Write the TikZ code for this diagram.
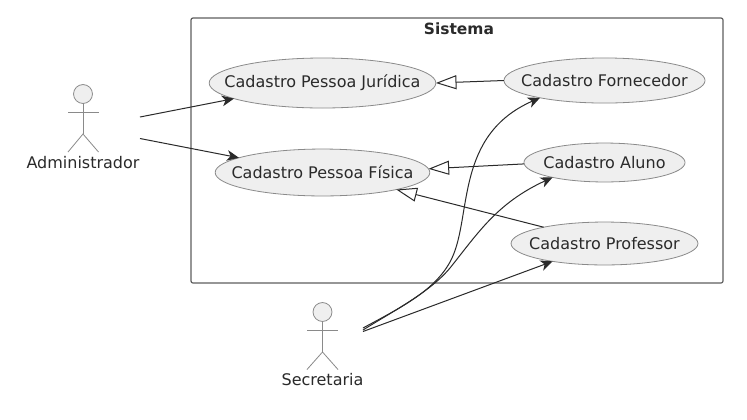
\documentclass[tikz,border=0pt]{standalone}
\usepackage{fontspec}
\setmainfont{DejaVu Sans}
\usetikzlibrary{arrows.meta,shapes.geometric}
\definecolor{ink}{HTML}{2A2A2A}
\definecolor{soft}{HTML}{EFEFEF}
\definecolor{rim}{HTML}{8A8A8A}
\tikzset{
  usecase/.style={draw=rim,fill=soft,ellipse,line width=0.6pt,inner sep=0pt,outer sep=0pt},
  caption/.style={font=\fontsize{12pt}{14pt}\selectfont,text=ink,inner sep=0pt},
  frame/.style={draw=ink!75,line width=0.9pt,rounded corners=1.5pt},
  actorline/.style={draw=rim,line width=0.6pt},
  actorhead/.style={circle,draw=rim,fill=soft,line width=0.6pt,minimum size=14.2pt,inner sep=0pt,outer sep=0pt},
  assoc/.style={draw=ink,line width=0.75pt,-{Stealth[length=9pt,width=8pt,inset=2.6pt]}},
  general/.style={draw=ink,line width=0.75pt,-{Triangle[open,length=15.5pt,width=10.5pt,fill=white]}}
}
\begin{document}
\begin{tikzpicture}[x=0.75pt,y=-0.75pt]
\useasboundingbox (0,0) rectangle (747,419);
\fill[white] (0,0) rectangle (747,419);
\draw[frame] (191,18) rectangle (723,283);
\node[caption,font=\fontsize{11.6pt}{14pt}\selectfont\bfseries] (sistema) at (459,29) {Sistema};

\node[usecase,minimum width=170pt,minimum height=37.5pt,label={[caption]center:Cadastro Pessoa Jurídica}] (jur) at (322.5,83) {};
\node[usecase,minimum width=161pt,minimum height=35.2pt,label={[caption]center:Cadastro Pessoa Física}] (fis) at (322.5,172.5) {};
\node[usecase,minimum width=150.8pt,minimum height=33.8pt,label={[caption]center:Cadastro Fornecedor}] (forn) at (604.5,80.5) {};
\node[usecase,minimum width=120.8pt,minimum height=29.2pt,label={[caption]center:Cadastro Aluno}] (alu) at (604.5,162.5) {};
\node[usecase,minimum width=140.2pt,minimum height=32.2pt,label={[caption]center:Cadastro Professor}] (prof) at (604.5,243.5) {};

% Administrador
\node[actorhead] (adminhead) at (83,94) {};
\coordinate (adminhip) at (83,134);
\draw[actorline] (adminhead.south) -- (adminhip);
\draw[actorline] (68,112) -- (98.5,112);
\draw[actorline] (68,152) -- (adminhip) -- (98.5,152);
\node[caption] (admin) at (83,163) {Administrador};

% Secretaria
\node[actorhead] (sechead) at (322.5,312) {};
\coordinate (sechip) at (322.5,352);
\draw[actorline] (sechead.south) -- (sechip);
\draw[actorline] (307,330) -- (338,330);
\draw[actorline] (307,369.5) -- (sechip) -- (338,369.5);
\node[caption] (sec) at (322.5,380) {Secretaria};

\coordinate (adminA) at (140,117);
\coordinate (adminB) at (140,138.5);
\coordinate (secA) at (363,328);
\coordinate (secB) at (363,330);
\coordinate (secC) at (363,331.5);

\draw[assoc] (adminA) -- (jur.190.4);
\draw[assoc] (adminB) -- (fis.170);
\draw[general] (forn.180) -- (jur.0.7);
\draw[general] (alu.181.8) -- (fis.2);
\draw[general] (prof.165.6) -- (fis.-13.2);
\draw[assoc] (secC) -- (prof.199.8);
\draw[assoc] (secA) .. controls (400,308) and (437,290) .. (452,258) .. controls (472,215) and (455,135) .. (forn.195.6);
\draw[assoc] (secB) .. controls (395,310) and (430,292) .. (450,268) .. controls (478,233) and (497,203) .. (alu.196.8);
\end{tikzpicture}
\end{document}
